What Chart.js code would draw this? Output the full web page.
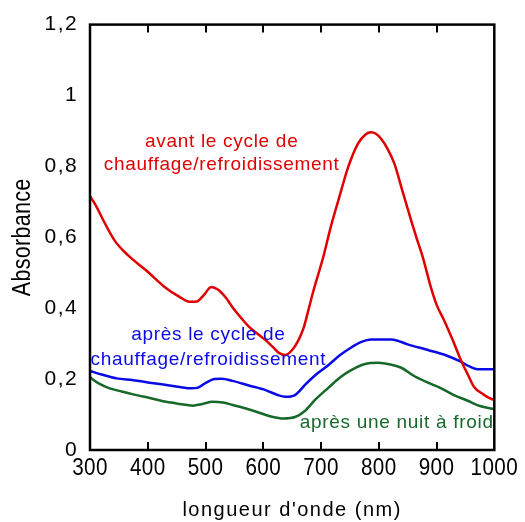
<!DOCTYPE html>
<html><head><meta charset="utf-8">
<script src="https://cdn.jsdelivr.net/npm/chart.js@4.4.1/dist/chart.umd.min.js"></script>
<style>html,body{margin:0;padding:0;background:#fff;}</style>
</head><body>
<canvas id="c" width="525" height="522"></canvas>
<script>
// ---- data ----
const redNm  = [300,310,323,343,366,397,429,455,472,485,497,510,522,535,547,564,575,590,604,617,627,638,650,661,670,678,687,696,704,717,730,747,764,777,787,795,804,815,827,841,856,866,876,890,900,913,928,942,955,965,980,990,1000];
const redAbs = [0.716,0.69,0.648,0.59,0.549,0.507,0.46,0.432,0.418,0.419,0.437,0.46,0.452,0.43,0.402,0.368,0.348,0.328,0.31,0.29,0.274,0.268,0.282,0.31,0.345,0.394,0.45,0.5,0.545,0.63,0.704,0.798,0.864,0.89,0.896,0.892,0.878,0.85,0.808,0.73,0.648,0.595,0.545,0.46,0.41,0.366,0.31,0.254,0.21,0.178,0.158,0.148,0.141];

const blueNm  = [300,320,346,375,403,430,455,475,487,501,515,528,547,575,604,625,638,655,673,693,713,733,753,770,787,822,850,885,915,942,958,971,1000];
const blueAbs = [0.223,0.213,0.202,0.197,0.19,0.184,0.178,0.174,0.176,0.19,0.2,0.201,0.195,0.182,0.169,0.155,0.15,0.155,0.185,0.215,0.24,0.268,0.29,0.305,0.312,0.312,0.298,0.282,0.268,0.249,0.235,0.228,0.228];

const greenNm  = [300,315,334,355,375,405,432,455,478,495,512,530,547,570,593,615,635,655,672,690,713,735,753,775,799,820,839,862,885,908,930,954,975,1000];
const greenAbs = [0.205,0.188,0.174,0.165,0.157,0.146,0.136,0.13,0.125,0.13,0.136,0.134,0.127,0.117,0.105,0.094,0.089,0.093,0.11,0.142,0.176,0.207,0.226,0.242,0.246,0.241,0.232,0.208,0.19,0.174,0.155,0.139,0.124,0.115];

const seriesNames = ['avant le cycle de chauffage/refroidissement','après le cycle de chauffage/refroidissement','après une nuit à froid'];
const xTickLabels = ['300','400','500','600','700','800','900','1000'];
const yTickLabels = ['0','0,2','0,4','0,6','0,8','1','1,2'];
const xTitle = "longueur d'onde (nm)";
const yTitle = 'Absorbance';
const labelLines = [
  ['avant le cycle de','chauffage/refroidissement'],
  ['après le cycle de','chauffage/refroidissement'],
  ['après une nuit à froid']
];

// ---- styles ----
const SANS = "'Liberation Sans', Arial, sans-serif";
const RED = '#e00000', BLUE = '#0a0ae6', GREEN = '#17692a';
const labelPlace = [
  {x: 528, ys: [0.854, 0.789], color: RED, align: 'center'},
  {x: 505, ys: [0.31, 0.241], color: BLUE, align: 'center'},
  {x: 831, ys: [0.061], color: GREEN, align: 'center'}
];

function pts(xs, ys){ return xs.map((x,i)=>({x:x, y:ys[i]})); }

// wrap a scale draw method with letter spacing and optional condensing
function patch(scale, method, spacing, condense){
  if (scale['_p_'+method]) return;
  const orig = scale[method].bind(scale);
  scale[method] = function(a){
    const ctx = this.ctx;
    ctx.save();
    ctx.letterSpacing = spacing;
    const undo = condense ? condense(this, ctx) : null;
    try { orig(a); } finally { if (undo) undo(); ctx.restore(); }
  };
  scale['_p_'+method] = true;
}
// horizontally condense each label around its own anchor
function condenseEach(f){
  return function(scale, ctx){
    const had = Object.prototype.hasOwnProperty.call(ctx, 'fillText');
    const of = ctx.fillText;
    ctx.fillText = function(t, x, y){
      this.save(); this.translate(x, y); this.scale(f, 1);
      of.call(this, t, 0, 0);
      this.restore();
    };
    return function(){ if (had) ctx.fillText = of; else delete ctx.fillText; };
  };
}
// condense vertical title along its length
function condenseVertical(f){
  return function(scale, ctx){
    const cy = (scale.top + scale.bottom) / 2;
    ctx.translate(0, cy); ctx.scale(1, f); ctx.translate(0, -cy);
    return null;
  };
}

const framePlugin = {
  id: 'frame',
  afterDatasetsDraw(chart){
    const {ctx, chartArea: ca, scales} = chart;
    const xs = scales.x;
    ctx.save();
    ctx.strokeStyle = '#000';
    ctx.lineWidth = 2.5;
    ctx.strokeRect(ca.left, ca.top, ca.right - ca.left, ca.bottom - ca.top);
    ctx.lineWidth = 2;
    xs.ticks.forEach(t => {
      if (t.value <= xs.min || t.value >= xs.max) return;
      const px = Math.round(xs.getPixelForValue(t.value));
      ctx.beginPath();
      ctx.moveTo(px, ca.bottom); ctx.lineTo(px, ca.bottom - 8);
      ctx.moveTo(px, ca.top); ctx.lineTo(px, ca.top + 8);
      ctx.stroke();
    });
    ctx.font = '19px ' + SANS;
    ctx.letterSpacing = '0.7px';
    ctx.textBaseline = 'alphabetic';
    labelPlace.forEach((p, i) => {
      ctx.fillStyle = p.color;
      ctx.textAlign = p.align;
      labelLines[i].forEach((line, j) => {
        ctx.fillText(line, xs.getPixelForValue(p.x), scales.y.getPixelForValue(p.ys[j]));
      });
    });
    ctx.restore();
  }
};

new Chart(document.getElementById('c'), {
  type: 'line',
  data: {
    datasets: [
      {label: seriesNames[0], data: pts(redNm, redAbs), borderColor: RED},
      {label: seriesNames[1], data: pts(blueNm, blueAbs), borderColor: BLUE},
      {label: seriesNames[2], data: pts(greenNm, greenAbs), borderColor: GREEN}
    ].map(d => Object.assign(d, {borderWidth: 2.5, pointRadius: 0, fill: false, cubicInterpolationMode: 'monotone'}))
  },
  options: {
    responsive: false,
    animation: false,
    layout: {padding: {left: 0, top: 24, right: 28, bottom: 0}},
    plugins: {legend: {display: false}, tooltip: {enabled: false}},
    scales: {
      x: {
        type: 'linear', min: 300, max: 1000,
        ticks: {stepSize: 100, padding: 4, color: '#000', font: {family: SANS, size: 24},
          maxRotation: 0, minRotation: 0, autoSkip: false,
          callback: (v, i) => xTickLabels[i]},
        grid: {display: false, drawTicks: false},
        border: {display: false},
        title: {display: true, text: xTitle, color: '#000', font: {family: SANS, size: 20, lineHeight: 1}, padding: {top: 0, bottom: 2}},
        afterFit(s){ s.height = 72; patch(s, 'drawLabels', '0.5px', condenseEach(0.86)); patch(s, 'drawTitle', '1.5px'); }
      },
      y: {
        min: 0, max: 1.2,
        ticks: {stepSize: 0.2, padding: 12, color: '#000', font: {family: SANS, size: 21},
          callback: (v, i) => yTickLabels[i]},
        grid: {display: false, drawTicks: false},
        border: {display: false},
        title: {display: true, text: yTitle, color: '#000', font: {family: SANS, size: 26, lineHeight: 1}, padding: {top: 10, bottom: 0}},
        afterFit(s){ s.width = 90; patch(s, 'drawLabels', '1.4px'); patch(s, 'drawTitle', '0.3px', condenseVertical(0.83)); }
      }
    }
  },
  plugins: [framePlugin]
});
</script>
</body></html>
